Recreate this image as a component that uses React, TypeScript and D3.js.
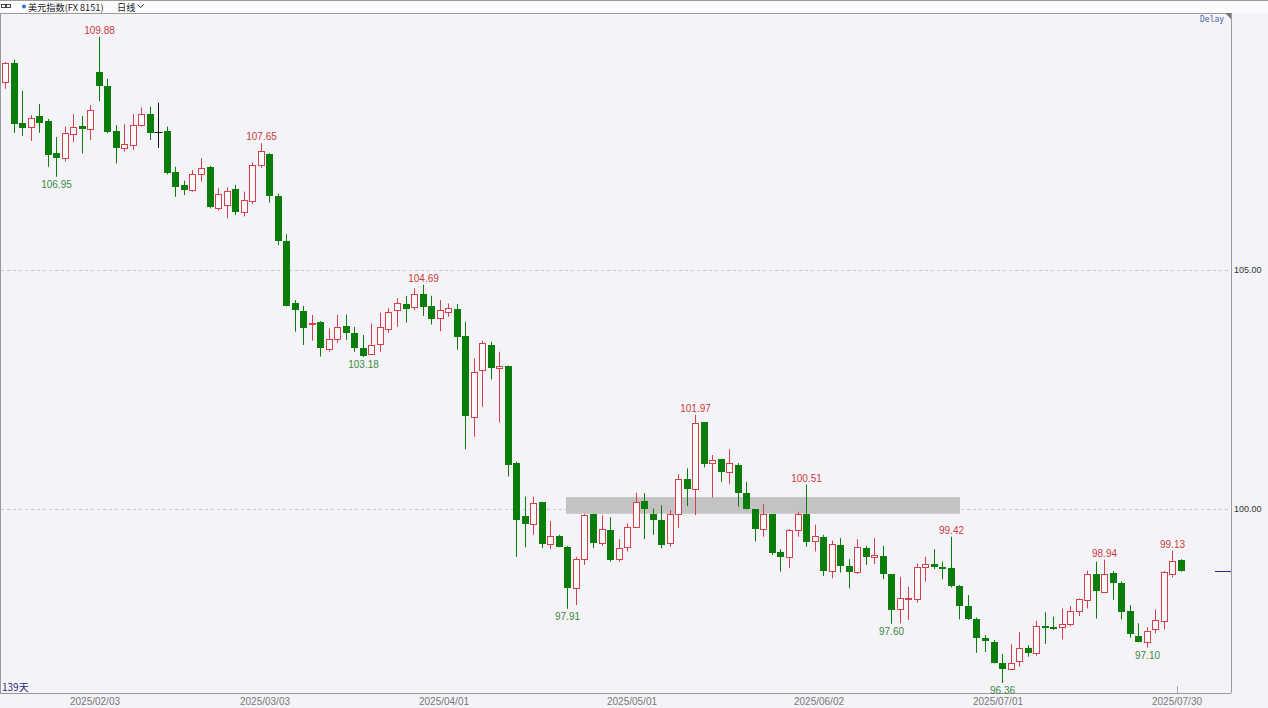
import React from "react";
import * as d3 from "d3";

const W = 1268;
const H = 708;

// daily OHLC, 139 trading days (2025/01/17 .. 2025/07/30)
const opens = [
  108.93, 109.33, 108.07, 108.0, 108.22, 108.11, 107.44, 107.34, 107.84, 108.01,
  107.94, 109.15, 108.84, 107.91, 107.56, 107.61, 108.04, 108.26, 107.88, 107.91,
  107.06, 106.78, 106.67, 107.0, 107.15, 106.29, 106.36, 106.69, 106.22, 106.45,
  107.2, 107.43, 106.55, 105.61, 104.3, 104.15, 103.86, 103.91, 103.34, 103.55,
  103.83, 103.69, 103.36, 103.24, 103.45, 103.76, 104.16, 104.29, 104.22, 104.49,
  104.25, 103.99, 104.13, 104.18, 103.62, 101.92, 102.91, 103.43, 102.94, 102.99,
  100.96, 99.85, 99.69, 100.15, 99.27, 99.44, 99.21, 98.34, 98.95, 99.89,
  99.28, 99.56, 98.95, 99.21, 99.63, 100.17, 99.89, 99.78, 99.28, 99.9,
  100.63, 100.42, 101.81, 100.96, 101.05, 100.77, 100.92, 100.33, 99.99, 99.59,
  99.89, 99.11, 98.99, 99.57, 99.89, 99.34, 99.42, 98.71, 99.25, 98.81,
  98.69, 99.19, 98.99, 99.02, 98.64, 97.9, 98.11, 98.11, 98.79, 98.84,
  98.78, 98.76, 98.39, 97.97, 97.69, 97.31, 97.22, 96.78, 96.66, 96.81,
  97.1, 96.98, 97.55, 97.53, 97.53, 97.59, 97.87, 98.1, 98.64, 98.27,
  98.67, 98.46, 97.87, 97.35, 97.21, 97.49, 97.66, 98.65, 98.93,
];
const highs = [
  109.35, 109.4, 108.75, 108.24, 108.47, 108.16, 107.78, 108.0, 108.26, 108.22,
  108.45, 109.88, 109.0, 108.03, 108.05, 108.26, 108.4, 108.42, 108.5, 108.0,
  107.16, 106.87, 107.09, 107.34, 107.18, 106.71, 106.73, 106.78, 106.64, 107.25,
  107.65, 107.44, 106.6, 105.75, 104.37, 104.25, 104.06, 103.93, 103.78, 104.06,
  104.07, 103.81, 103.64, 103.88, 104.11, 104.2, 104.41, 104.46, 104.62, 104.69,
  104.46, 104.37, 104.3, 104.29, 103.92, 103.15, 103.52, 103.5, 103.29, 103.0,
  100.99, 100.26, 100.26, 100.15, 99.75, 99.46, 99.23, 99.0, 99.9, 99.9,
  99.87, 99.83, 99.37, 99.7, 100.34, 100.33, 100.01, 100.08, 99.98, 100.73,
  100.85, 101.97, 101.81, 101.13, 101.05, 101.25, 100.96, 100.57, 100.0, 100.1,
  99.89, 99.16, 99.58, 99.94, 100.51, 99.67, 99.46, 99.34, 99.39, 98.95,
  99.37, 99.23, 99.39, 99.23, 98.64, 98.58, 98.37, 98.86, 99.0, 99.16,
  98.9, 99.42, 98.41, 98.2, 97.73, 97.36, 97.26, 96.97, 97.17, 97.43,
  97.15, 97.66, 97.84, 97.75, 97.92, 97.97, 98.13, 98.71, 98.9, 98.94,
  98.7, 98.49, 97.99, 97.61, 97.53, 97.9, 98.7, 99.13, 98.95,
];
const lows = [
  108.79, 107.87, 107.8, 107.7, 107.87, 107.16, 106.95, 107.27, 107.68, 107.44,
  107.72, 108.53, 107.86, 107.23, 107.48, 107.51, 108.0, 107.72, 107.55, 107.0,
  106.53, 106.57, 106.64, 106.85, 106.29, 106.24, 106.08, 106.15, 106.12, 106.38,
  107.13, 106.41, 105.52, 104.24, 103.71, 103.43, 103.52, 103.19, 103.29, 103.48,
  103.54, 103.29, 103.18, 103.22, 103.29, 103.69, 103.81, 103.9, 104.16, 104.04,
  103.86, 103.72, 104.02, 103.33, 101.25, 101.51, 102.14, 102.71, 101.81, 100.68,
  99.0, 99.2, 99.46, 99.18, 99.16, 99.2, 97.91, 97.99, 98.83, 99.18,
  99.23, 98.9, 98.9, 99.11, 99.6, 99.37, 99.46, 99.18, 99.21, 99.6,
  100.06, 99.87, 100.87, 100.24, 100.57, 100.52, 100.05, 99.99, 99.32, 99.42,
  99.04, 98.69, 98.76, 99.42, 99.21, 99.11, 98.6, 98.55, 98.67, 98.34,
  98.64, 98.83, 98.85, 98.53, 97.6, 97.61, 97.68, 98.04, 98.48, 98.74,
  98.53, 98.36, 97.69, 97.68, 96.99, 97.01, 96.77, 96.36, 96.63, 96.7,
  96.91, 96.93, 97.18, 97.47, 97.27, 97.55, 97.76, 97.92, 97.71, 98.25,
  98.1, 97.69, 97.31, 97.21, 97.1, 97.4, 97.48, 98.57, 98.69,
];
const closes = [
  109.33, 108.05, 107.98, 108.19, 108.08, 107.41, 107.34, 107.86, 108.0, 107.96,
  108.35, 108.84, 107.89, 107.56, 107.64, 108.04, 108.26, 107.87, 107.88, 107.02,
  106.74, 106.67, 107.0, 107.13, 106.31, 106.6, 106.66, 106.22, 106.46, 107.2,
  107.5, 106.55, 105.61, 104.25, 104.16, 103.78, 103.9, 103.36, 103.55, 103.8,
  103.69, 103.36, 103.21, 103.43, 103.8, 104.13, 104.3, 104.18, 104.49, 104.23,
  103.97, 104.16, 104.2, 103.6, 101.95, 102.86, 103.47, 102.94, 103.0, 100.92,
  99.78, 99.69, 100.13, 99.27, 99.44, 99.21, 98.34, 98.95, 99.87, 99.28,
  99.58, 98.93, 99.19, 99.63, 100.15, 100.01, 99.78, 99.25, 99.89, 100.63,
  100.41, 101.79, 100.94, 101.03, 100.78, 100.96, 100.33, 99.99, 99.59, 99.9,
  99.07, 98.99, 99.57, 99.9, 99.32, 99.44, 98.71, 99.27, 98.81, 98.69,
  99.2, 99.0, 99.03, 98.64, 97.89, 98.13, 98.13, 98.78, 98.84, 98.78,
  98.76, 98.39, 97.97, 97.69, 97.31, 97.24, 96.78, 96.65, 96.77, 97.1,
  96.98, 97.55, 97.53, 97.52, 97.59, 97.87, 98.11, 98.65, 98.28, 98.65,
  98.46, 97.85, 97.38, 97.21, 97.45, 97.68, 98.68, 98.91, 98.7,
];

// x-axis tick labels and the candle index they belong to
const tickLabels = ["2025/02/03", "2025/03/03", "2025/04/01", "2025/05/01", "2025/06/02", "2025/07/01", "2025/07/30"];
const tickIndex = [11, 31, 52, 74, 96, 117, 138];

// right axis
const priceTicks = [105, 100];

// swing high / low annotations
const highMarks = [11, 30, 49, 81, 94, 111, 129, 137];
const lowMarks = [6, 42, 66, 104, 117, 134];

// resistance / support zone
const zoneFrom = 66;
const zoneTo = 112;
const zoneLow = 99.9;
const zoneHigh = 100.25;

const BG = "#f4f4f8";
const RED = "#d6404a";
const GREEN = "#0a7d0a";
const FONT = "'Liberation Sans', Arial, sans-serif";

export default function App() {
  const n = opens.length;
  const x = d3.scaleLinear().domain([0, n - 1]).range([5, 1181]);
  const y = d3.scaleLinear().domain([96, 110]).range([700.2, 31]);
  const px = (i: number) => Math.round(x(i));

  const plotRight = 1231;
  const plotTop = 13;
  const plotBottom = 693;

  const candles = opens.map((o, i) => {
    const c = closes[i];
    const hi = highs[i];
    const lo = lows[i];
    const up = c > o;
    const flat = Math.abs(c - o) < 0.005;
    const col = flat ? "#111" : up ? RED : GREEN;
    const cx = px(i) + 0.5;
    const yTop = Math.round(y(Math.max(o, c)));
    const yBot = Math.round(y(Math.min(o, c)));
    const bh = Math.max(yBot - yTop, 1);
    return (
      <g key={i}>
        <line x1={cx} x2={cx} y1={y(hi)} y2={y(lo)} stroke={col} strokeWidth={1} />
        {flat ? (
          <line x1={cx - 4} x2={cx + 4} y1={yTop + 0.5} y2={yTop + 0.5} stroke={col} strokeWidth={1} />
        ) : up ? (
          <rect x={cx - 3} y={yTop + 0.5} width={6} height={bh} fill="#fafafc" stroke={col} strokeWidth={1} />
        ) : (
          <rect x={cx - 3.5} y={yTop} width={7} height={Math.max(bh, 2)} fill={col} />
        )}
      </g>
    );
  });

  return (
    <svg
      width={W}
      height={H}
      style={{ position: "absolute", left: 0, top: 0, background: BG, fontFamily: FONT }}
    >
      <rect x={0} y={0} width={W} height={H} fill={BG} />
      {/* header */}
      <rect x={0} y={0} width={W} height={13} fill="#fbfbfd" />
      <line x1={0} x2={W} y1={0.5} y2={0.5} stroke="#9a9a9a" />
      <g stroke="#444" strokeWidth={1} fill="none">
        <rect x={1.5} y={4.5} width={4} height={3} />
        <rect x={6.5} y={4.5} width={4} height={3} />
      </g>
      <circle cx={24} cy={6.5} r={2} fill="#3a6fd0" />
      <text x={28} y={10.8} fontSize={9.2} fill="#222" fontFamily="'Noto Sans CJK SC', sans-serif">
        美元指数(FX 8151)
      </text>
      <text x={117} y={10.8} fontSize={9.2} fill="#222" fontFamily="'Noto Sans CJK SC', sans-serif">
        日线
      </text>
      <path d="M137.5,4.5 L140.5,7.5 L143.5,4.5" stroke="#222" fill="none" />

      {/* plot frame */}
      <line x1={0} x2={plotRight} y1={plotTop + 0.5} y2={plotTop + 0.5} stroke="#9a9a9a" />
      <line x1={plotRight + 0.5} x2={plotRight + 0.5} y1={plotTop} y2={plotBottom} stroke="#9a9a9a" />
      <line x1={0} x2={plotRight} y1={plotBottom + 0.5} y2={plotBottom + 0.5} stroke="#9a9a9a" />
      <line x1={0.5} x2={0.5} y1={plotTop} y2={plotBottom} stroke="#9a9a9a" />
      <path d={`M${plotRight - 6},${plotTop} L${plotRight},${plotTop} L${plotRight},${plotTop + 6} Z`} fill="#777" />
      <text x={1200} y={22} fontSize={8} fill="#4a66a8" fontFamily="'DejaVu Sans Mono', monospace">
        Delay
      </text>

      {/* grid + right axis */}
      {priceTicks.map((p) => (
        <g key={p}>
          <line
            x1={1}
            x2={plotRight}
            y1={Math.round(y(p)) + 0.5}
            y2={Math.round(y(p)) + 0.5}
            stroke="#c6c6cc"
            strokeDasharray="3,3"
          />
          <text x={1234} y={y(p) + 3} fontSize={9} fill="#333">
            {p.toFixed(2)}
          </text>
        </g>
      ))}

      {/* zone */}
      <rect
        x={px(zoneFrom) - 1}
        y={y(zoneHigh)}
        width={px(zoneTo) - px(zoneFrom) + 2}
        height={y(zoneLow) - y(zoneHigh)}
        fill="#c3c3c3"
      />

      {candles}

      {/* annotations */}
      {highMarks.map((i) => (
        <text key={"h" + i} x={px(i) + 0.5} y={y(highs[i]) - 3} fontSize={10} fill="#cc3b3b" textAnchor="middle">
          {highs[i].toFixed(2)}
        </text>
      ))}
      {lowMarks.map((i) => (
        <text key={"l" + i} x={px(i) + 0.5} y={y(lows[i]) + 11} fontSize={10} fill="#3c8a3c" textAnchor="middle">
          {lows[i].toFixed(2)}
        </text>
      ))}

      {/* last price marker */}
      <line
        x1={1215}
        x2={plotRight}
        y1={Math.round(y(closes[n - 1])) + 0.5}
        y2={Math.round(y(closes[n - 1])) + 0.5}
        stroke="#2b2b85"
      />

      {/* x axis */}
      <line x1={px(n - 1) - 3.5} x2={px(n - 1) - 3.5} y1={plotBottom - 7} y2={plotBottom} stroke="#aaa" />
      {tickLabels.map((t, k) => (
        <text key={t} x={px(tickIndex[k]) - 4} y={705} fontSize={10} fill="#777" textAnchor="middle">
          {t}
        </text>
      ))}
      <text x={2} y={691} fontSize={10} fill="#2a2a7a" fontFamily="'Noto Sans CJK SC', sans-serif">
        139天
      </text>
    </svg>
  );
}
